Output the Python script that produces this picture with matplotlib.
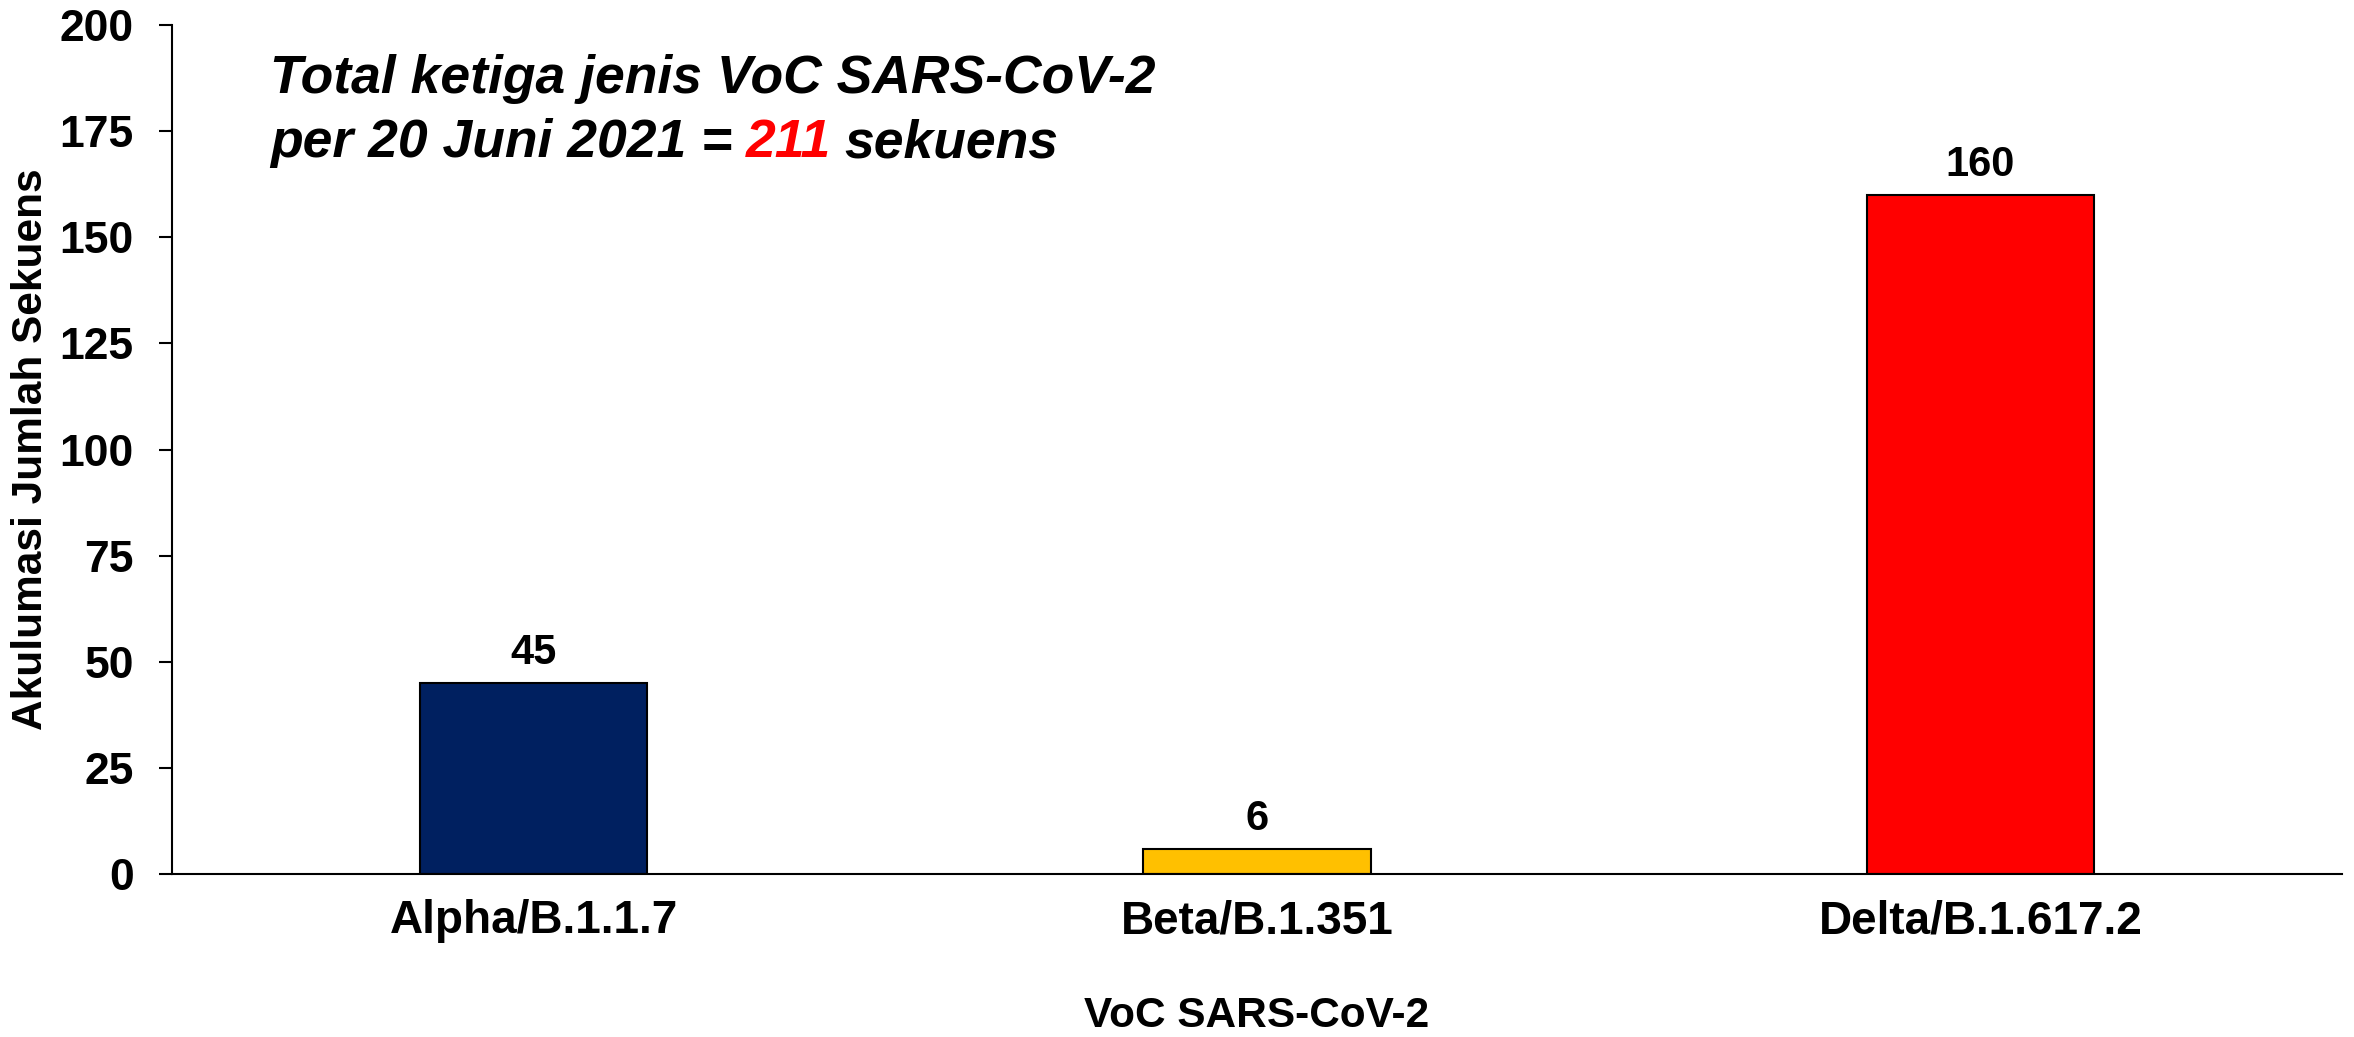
import matplotlib
matplotlib.use("Agg")
import matplotlib.pyplot as plt
import numpy as np

# data
varian = ["Alpha/B.1.1.7", "Beta/B.1.351", "Delta/B.1.617.2"]
jumlah = [45, 6, 160]
warna = ["#002060", "#FFC000", "#FF0000"]
total = 211
yticks = [0, 25, 50, 75, 100, 125, 150, 175, 200]

plt.rcParams['font.family'] = ['Liberation Sans', 'DejaVu Sans']
plt.rcParams['font.weight'] = 'bold'

W, H = 2354, 1037
fig = plt.figure(figsize=(W / 100, H / 100), dpi=100)
ax = fig.add_axes([172 / W, 1 - 874 / H, (2342 - 172) / W, (874 - 25) / H])

x = np.arange(len(varian))
bars = ax.bar(x, jumlah, width=0.314, color=warna, edgecolor='black', linewidth=1.5)
ax.bar_label(bars, labels=[str(v) for v in jumlah], padding=7, fontsize=30, fontweight='bold')

ax.set_xlim(-0.5, len(varian) - 0.5)
ax.set_ylim(0, 200)
ax.set_yticks(yticks)
ax.set_xticks(x)
ax.set_xticklabels(varian)

for s in ['top', 'right']:
    ax.spines[s].set_visible(False)
for s in ['left', 'bottom']:
    ax.spines[s].set_linewidth(1.5)

ax.tick_params(axis='y', length=9.5, width=1.5, pad=18, labelsize=32)
ax.tick_params(axis='x', length=0, pad=18, labelsize=33)
for lab in ax.get_xticklabels() + ax.get_yticklabels():
    lab.set_fontweight('bold')

ax.set_xlabel("VoC SARS-CoV-2", fontsize=30.5, fontweight='bold', labelpad=38)
ax.set_ylabel("Akulumasi Jumlah Sekuens", fontsize=30.5, fontweight='bold', labelpad=6)

# keterangan total di kiri atas
tkw = dict(fontsize=38.5, fontweight='bold', fontstyle='italic')
fig.text(270 / W, 1 - 93 / H, "Total ketiga jenis VoC SARS-CoV-2", ha='left', va='baseline', **tkw)
t1 = fig.text(270 / W, 1 - 157 / H, "per 20 Juni 2021 =", ha='left', va='baseline', **tkw)
sp = 0.25 * 38.5
t2 = ax.annotate(str(total), xy=(1, 0), xycoords=t1, xytext=(sp, 0), textcoords='offset points',
                 ha='left', va='bottom', color='#FF0000', **tkw)
ax.annotate("sekuens", xy=(1, 0), xycoords=t2, xytext=(sp, 0), textcoords='offset points',
            ha='left', va='bottom', **tkw)

fig.savefig("out.png", dpi=100)
